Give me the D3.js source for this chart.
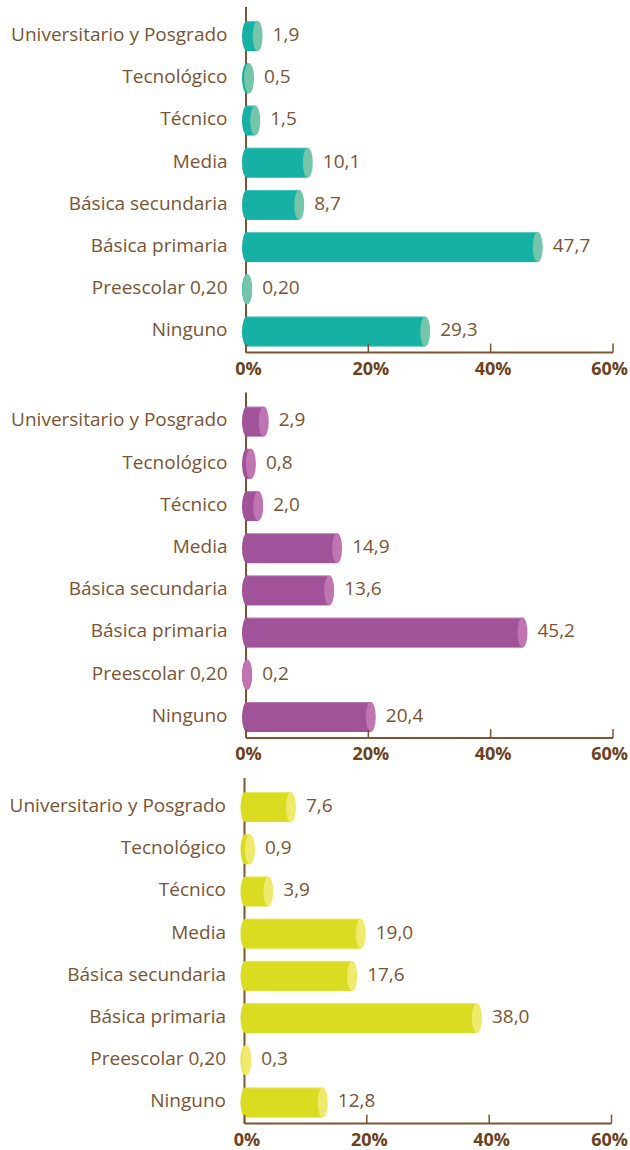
<!DOCTYPE html>
<html>
<head>
<meta charset="utf-8">
<script src="https://cdn.jsdelivr.net/npm/d3@7"></script>
<style>
    body { margin: 0; background: #fff; }
    svg { display: block; font-family: "Open Sans", sans-serif; }
</style>
</head>
<body>
<svg id="chart" width="630" height="1150"></svg>
<script>
var categories = ["Universitario y Posgrado", "Tecnológico", "Técnico", "Media",
    "Básica secundaria", "Básica primaria", "Preescolar 0,20", "Ninguno"];

var values1 = [1.9, 0.5, 1.5, 10.1, 8.7, 47.7, 0.20, 29.3];
var labels1 = ["1,9", "0,5", "1,5", "10,1", "8,7", "47,7", "0,20", "29,3"];

var values2 = [2.9, 0.8, 2.0, 14.9, 13.6, 45.2, 0.2, 20.4];
var labels2 = ["2,9", "0,8", "2,0", "14,9", "13,6", "45,2", "0,2", "20,4"];

var values3 = [7.6, 0.9, 3.9, 19.0, 17.6, 38.0, 0.3, 12.8];
var labels3 = ["7,6", "0,9", "3,9", "19,0", "17,6", "38,0", "0,3", "12,8"];

var ticks = [0, 20, 40, 60];

var panels = [
    { values: values1, labels: labels1, body: "#16b0a4", cap: "#74c5aa", top: 15, dx: 0 },
    { values: values2, labels: labels2, body: "#a05399", cap: "#c174b2", top: 400.5, dx: 0 },
    { values: values3, labels: labels3, body: "#dadc22", cap: "#efe96c", top: 786, dx: -1.5 }
];

var TEXT_COLOR = "#7a5434",
    AXIS_COLOR = "#7d5532",
    TICK_COLOR = "#6b421c",
    ROW = 42.2,
    BAR_H = 30,
    RX = 5;

var svg = d3.select("#chart");

panels.forEach(function (p) {
    var x = d3.scaleLinear().domain([0, 60]).range([246 + p.dx, 613 + p.dx]);
    var y = d3.scaleBand().domain(categories)
        .range([p.top, p.top + categories.length * ROW]).padding(0);
    var axisY = p.top + categories.length * ROW;

    var g = svg.append("g");

    // vertical axis line
    g.append("line")
        .attr("x1", x(0)).attr("x2", x(0))
        .attr("y1", p.top - 8).attr("y2", axisY)
        .attr("stroke", AXIS_COLOR).attr("stroke-width", 2);

    // category labels
    g.selectAll("text.cat")
        .data(categories)
        .enter().append("text")
        .attr("class", "cat")
        .attr("x", x(0) - 18.5)
        .attr("y", function (d) { return y(d) + y.bandwidth() / 2 + 4.8; })
        .attr("text-anchor", "end")
        .attr("font-size", 19)
        .attr("fill", TEXT_COLOR)
        .text(function (d) { return d; });

    var bars = g.selectAll("g.bar")
        .data(p.values)
        .enter().append("g")
        .attr("class", "bar")
        .attr("transform", function (d, i) {
            return "translate(0," + (y(categories[i]) + y.bandwidth() / 2) + ")";
        });

    // left rounded end
    bars.append("ellipse")
        .attr("cx", x(0) + 1)
        .attr("cy", 0)
        .attr("rx", RX).attr("ry", BAR_H / 2)
        .attr("fill", p.body);

    bars.append("rect")
        .attr("x", x(0) + 1)
        .attr("y", -BAR_H / 2)
        .attr("width", function (d) { return Math.max(0, x(d) - x(0) - 1); })
        .attr("height", BAR_H)
        .attr("fill", p.body);

    // top edge highlight
    bars.append("line")
        .attr("x1", x(0) + 1)
        .attr("x2", function (d) { return x(d); })
        .attr("y1", -BAR_H / 2 + 0.5).attr("y2", -BAR_H / 2 + 0.5)
        .attr("stroke", "#ffffff").attr("stroke-opacity", 0.25);

    // right cap
    bars.append("ellipse")
        .attr("cx", function (d) { return Math.max(x(d), x(0) + 1); })
        .attr("cy", 0)
        .attr("rx", RX).attr("ry", BAR_H / 2)
        .attr("fill", p.cap);

    bars.append("text")
        .attr("x", function (d) { return Math.max(x(d), x(0) + 1) + 15; })
        .attr("y", 4.8)
        .attr("font-size", 19)
        .attr("fill", TEXT_COLOR)
        .text(function (d, i) { return p.labels[i]; });

    // horizontal axis
    g.append("line")
        .attr("x1", x(0)).attr("x2", x(60))
        .attr("y1", axisY).attr("y2", axisY)
        .attr("stroke", AXIS_COLOR).attr("stroke-width", 2);

    g.selectAll("line.tick")
        .data(ticks)
        .enter().append("line")
        .attr("class", "tick")
        .attr("x1", function (d) { return x(d); })
        .attr("x2", function (d) { return x(d); })
        .attr("y1", axisY - 9).attr("y2", axisY)
        .attr("stroke", AXIS_COLOR).attr("stroke-width", 1.5);

    g.selectAll("text.tick")
        .data(ticks)
        .enter().append("text")
        .attr("class", "tick")
        .attr("x", function (d) { return d === 60 ? 628 : x(d) + 2.5; })
        .attr("y", axisY + 22)
        .attr("text-anchor", function (d) { return d === 60 ? "end" : "middle"; })
        .attr("font-size", 18)
        .attr("font-weight", "bold")
        .attr("fill", TICK_COLOR)
        .text(function (d) { return d + "%"; });
});
</script>
</body>
</html>
